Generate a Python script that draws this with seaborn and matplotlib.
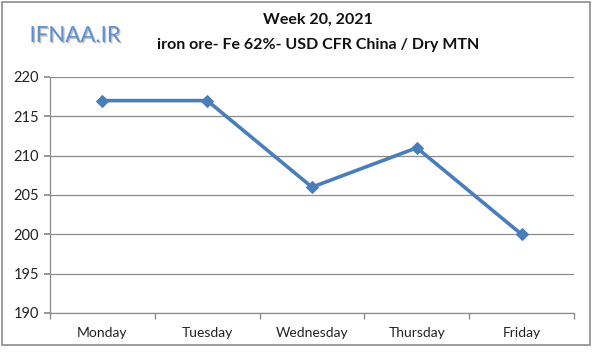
import matplotlib
matplotlib.use("Agg")
import matplotlib.pyplot as plt
import seaborn as sns
import pandas as pd
import numpy as np
from matplotlib.patches import Rectangle
import matplotlib.patheffects as pe

days = ["Monday", "Tuesday", "Wednesday", "Thursday", "Friday"]
prices = [217, 217, 206, 211, 200]
yticks = [190, 195, 200, 205, 210, 215, 220]

sns.set_theme(style="white")
plt.rcParams['font.family'] = ['Lato', 'DejaVu Sans']

df = pd.DataFrame({"day": days, "price": prices})

fig = plt.figure(figsize=(6.0, 3.59), dpi=100)
ax = fig.add_axes([50/600, 1-313/359, (574-50)/600, (313-77)/359])

ax.yaxis.grid(True, color="#8c8c8c", linewidth=0.9)
ax.set_axisbelow(True)
sns.lineplot(data=df, x="day", y="price", ax=ax, color="#4a7ebb", linewidth=2.6,
             marker="D", markersize=6, markeredgecolor="#4a7ebb", sort=False)

ax.set_xlim(-0.5, 4.5)
ax.set_ylim(190, 220)
ax.set_yticks(yticks)
ax.set_yticklabels([str(v) for v in yticks], fontsize=10.5, color="#222222")
ax.set_xticks(range(len(days)))
ax.set_xticklabels(days, fontsize=10, color="#222222")
ax.set_xticks(np.arange(-0.5, 5, 1), minor=True)
ax.tick_params(axis="x", which="major", length=0, pad=10)
ax.tick_params(axis="x", which="minor", length=4, color="#8c8c8c", direction="out", bottom=True)
ax.tick_params(axis="y", length=4, color="#8c8c8c", direction="out", left=True, pad=4)
ax.set_xlabel("")
ax.set_ylabel("")
for s in ["top", "right"]:
    ax.spines[s].set_visible(False)
for s in ["left", "bottom"]:
    ax.spines[s].set_color("#8c8c8c")
    ax.spines[s].set_linewidth(0.9)

fig.patches.append(Rectangle((2/600, 1-345/359), 588/600, 343/359, transform=fig.transFigure,
                             fill=False, edgecolor="#8c8c8c", linewidth=1.2))

fig.text(318/600, 1-20/359, "Week 20, 2021", ha="center", va="center", fontsize=11.5,
         fontweight="bold", color="#111111")
fig.text(318/600, 1-45/359, "iron ore- Fe 62%- USD CFR China / Dry MTN", ha="center", va="center",
         fontsize=11.5, fontweight="bold", color="#111111")
fig.text(75/600, 1-36/359, "IFNAA.IR", ha="center", va="center", fontsize=16,
         color="#5b8fd0", path_effects=[pe.withSimplePatchShadow(offset=(1, -1), shadow_rgbFace="#b0b0b0", alpha=0.8)])

fig.savefig("out.png", dpi=100)
